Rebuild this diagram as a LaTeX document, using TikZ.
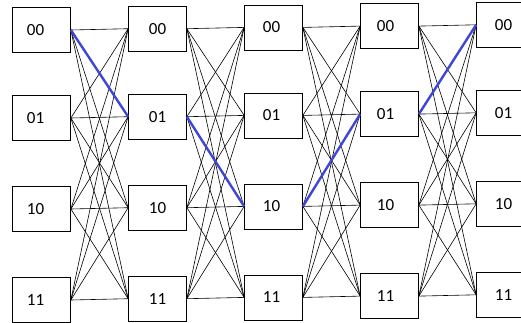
\documentclass[tikz,border=0pt]{standalone}
\usepackage{fontspec}
\setmainfont{Carlito}
\definecolor{pathblue}{RGB}{62,70,214}
\begin{document}
\begin{tikzpicture}[x=1pt,y=-1pt,
    state/.style={draw,rectangle,line width=0.7pt,minimum width=58pt,
      minimum height=45pt,inner sep=0pt,font=\fontsize{17}{20}\selectfont},
    link/.style={line width=0.6pt},
    best/.style={pathblue,line width=2.4pt}]
  \useasboundingbox (0,0) rectangle (521,322);
  \clip (0,0) rectangle (521,322);
  \def\dx{116}
  % five stages of the four states (\tx nudges the text sideways)
  \foreach \c/\tx in {0/-12,1/0,2/-4,3/-8,4/-4}
    \foreach \r/\y/\lab in {0/30/00,1/118/01,2/209/10,3/300/11}
      \node[state] (n\c\r) at ({41.5+\dx*\c},{\y-1.3*\c})
        {\hspace*{\tx pt}\lab};
  % every state goes to every state of the next stage
  \foreach \c [evaluate=\c as \d using int(\c+1)] in {0,...,3}
    \foreach \a in {0,...,3}
      \foreach \b in {0,...,3}
        \draw[link] (n\c\a.east) -- (n\d\b.west);
  % the chosen path
  \draw[best] (n00.east) -- (n11.west) (n11.east) -- (n22.west)
    (n22.east) -- (n31.west) (n31.east) -- (n40.west);
\end{tikzpicture}
\end{document}
